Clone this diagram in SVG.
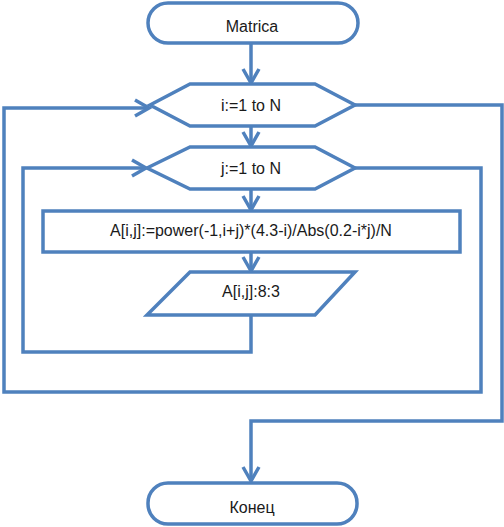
<svg xmlns="http://www.w3.org/2000/svg" width="504" height="527" viewBox="0 0 504 527">
<style>
.s{fill:#ffffff;stroke:#4F81BD;stroke-width:3.5;stroke-linejoin:miter}
.c{fill:none;stroke:#4F81BD;stroke-width:3.5;stroke-linejoin:miter}
.t{font-family:"Liberation Sans",Arial,sans-serif;font-size:16px;fill:#1a1a1a;text-anchor:middle}
</style>
<defs>
<marker id="a" markerUnits="userSpaceOnUse" markerWidth="20" markerHeight="20" viewBox="-16 -10 20 20" refX="0" refY="0" orient="auto">
<path d="M-14,-8 L0,0 L-14,8" fill="none" stroke="#4F81BD" stroke-width="3.5"/>
</marker>
</defs>
<g id="connectors">
<path class="c" d="M251,43 V83" marker-end="url(#a)"/>
<path class="c" d="M251,126 V146" marker-end="url(#a)"/>
<path class="c" d="M251,189 V210" marker-end="url(#a)"/>
<path class="c" d="M251,252 V271" marker-end="url(#a)"/>
<path class="c" d="M251,315 V352 H23 V168 H146" marker-end="url(#a)"/>
<path class="c" d="M355,168 H481 V392 H4 V108 H149" marker-end="url(#a)"/>
<path class="c" d="M355,105 H502 V421 H251 V481" marker-end="url(#a)"/>
</g>
<g id="start">
<rect class="s" x="148" y="3" width="210" height="40" rx="20"/>
<text class="t" x="252" y="32">Matrica</text>
</g>
<g id="loop_i">
<polygon class="s" points="150,105 190,84 315,84 355,105 315,126 190,126"/>
<text class="t" x="251" y="111">i:=1 to N</text>
</g>
<g id="loop_j">
<polygon class="s" points="147,168 190,147 315,147 355,168 315,189 190,189"/>
<text class="t" x="251" y="174">j:=1 to N</text>
</g>
<g id="assign">
<rect class="s" x="43" y="211" width="417" height="41"/>
<text class="t" x="251" y="236">A[i,j]:=power(-1,i+j)*(4.3-i)/Abs(0.2-i*j)/N</text>
</g>
<g id="output">
<polygon class="s" points="190,272 355,272 315,315 147,315"/>
<text class="t" x="251" y="297">A[i,j]:8:3</text>
</g>
<g id="end">
<rect class="s" x="148" y="483" width="209" height="41" rx="20"/>
<text class="t" x="252" y="513">Конец</text>
</g>
</svg>
